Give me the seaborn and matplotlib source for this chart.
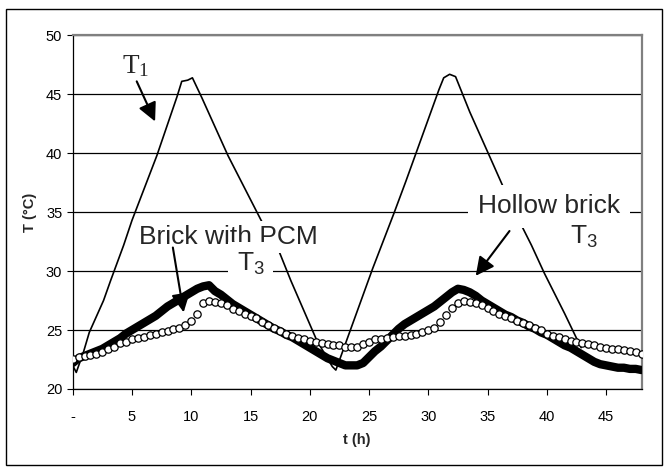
import matplotlib.pyplot as plt
import seaborn as sns
import numpy as np
from matplotlib.patches import Rectangle

sns.set_style("white")
plt.rcParams['font.family'] = ['Liberation Sans', 'DejaVu Sans']

# time axis (h), sampled every half hour
hours = np.arange(0, 48.5, 0.5)

# Hollow brick, T3 (thick line)
hollow_t3 = [22.2, 22.6, 22.8, 23.0, 23.2, 23.4, 23.7, 24.0, 24.3, 24.7,
             25.0, 25.3, 25.6, 25.9, 26.2, 26.6, 27.0, 27.3, 27.6, 27.9,
             28.2, 28.5, 28.7, 28.8, 28.3, 28.0, 27.6, 27.2, 26.9, 26.6,
             26.3, 26.0, 25.7, 25.4, 25.1, 24.9, 24.6, 24.4, 24.1, 23.8,
             23.5, 23.2, 22.9, 22.6, 22.4, 22.2, 22.0, 22.0, 22.0, 22.2,
             22.7, 23.2, 23.6, 24.1, 24.6, 25.1, 25.5, 25.8, 26.1, 26.4,
             26.7, 27.0, 27.4, 27.8, 28.2, 28.5, 28.4, 28.2, 27.9, 27.5,
             27.2, 26.9, 26.6, 26.3, 26.1, 25.8, 25.6, 25.3, 25.1, 24.8,
             24.6, 24.3, 24.0, 23.7, 23.5, 23.2, 22.9, 22.6, 22.3, 22.1,
             22.0, 21.9, 21.8, 21.8, 21.7, 21.7, 21.6]

# Brick with PCM, T3 (open circles)
pcm_t3 = [22.5, 22.7, 22.8, 22.9, 23.0, 23.1, 23.4, 23.6, 23.9, 24.0,
          24.2, 24.3, 24.4, 24.6, 24.7, 24.8, 24.9, 25.1, 25.2, 25.4,
          25.8, 26.4, 27.3, 27.5, 27.4, 27.3, 27.1, 26.8, 26.6, 26.4,
          26.2, 26.0, 25.7, 25.4, 25.2, 24.9, 24.7, 24.5, 24.3, 24.2,
          24.1, 24.0, 23.9, 23.8, 23.7, 23.7, 23.6, 23.6, 23.6, 23.8,
          24.0, 24.2, 24.2, 24.3, 24.4, 24.5, 24.5, 24.6, 24.7, 24.8,
          25.0, 25.2, 25.7, 26.3, 26.9, 27.3, 27.5, 27.4, 27.3, 27.1,
          26.9, 26.6, 26.4, 26.2, 26.0, 25.8, 25.6, 25.4, 25.2, 25.0,
          24.7, 24.5, 24.4, 24.2, 24.1, 24.0, 23.9, 23.8, 23.7, 23.6,
          23.5, 23.4, 23.4, 23.3, 23.2, 23.1, 23.0]

# T1 (outer surface)
t1_hours = [0.0, 0.3, 0.9, 1.4, 2.6, 3.2, 4.3, 5.0, 7.1, 8.8, 9.2, 9.7,
            10.1, 10.9, 13.1, 15.9, 17.4, 18.4, 20.6, 21.9, 22.2, 22.6,
            25.3, 27.1, 28.1, 29.5, 30.9, 31.3, 31.8, 32.3, 33.5, 35.5,
            37.0, 38.7, 39.8, 41.5, 42.6, 42.9]
t1_temp = [22.0, 21.4, 23.1, 24.8, 27.5, 29.2, 32.2, 34.3, 39.8, 44.8, 46.1,
           46.2, 46.4, 44.7, 39.8, 34.3, 31.7, 29.2, 24.1, 21.9, 21.6, 22.7,
           30.2, 34.9, 37.6, 41.5, 45.4, 46.4, 46.7, 46.5, 43.5, 39.0,
           35.6, 32.2, 29.8, 26.4, 24.1, 23.5]

xticks = [0, 5, 10, 15, 20, 25, 30, 35, 40, 45]
xtick_labels = ['-', '5', '10', '15', '20', '25', '30', '35', '40', '45']
yticks = [20, 25, 30, 35, 40, 45, 50]

fig = plt.figure(figsize=(6.67, 4.72), dpi=100)
ax = fig.add_axes([0.109, 0.176, 0.853, 0.749])

sns.lineplot(x=t1_hours, y=t1_temp, color='black', lw=1.2,
             estimator=None, sort=False, ax=ax, zorder=2)
sns.lineplot(x=hours, y=hollow_t3, color='black', lw=6,
             estimator=None, sort=False, ax=ax, zorder=3)
sns.scatterplot(x=hours, y=pcm_t3, marker='o', s=28, facecolor='white',
                edgecolor='black', linewidth=0.9, ax=ax, zorder=4)

ax.set_xlim(0, 48)
ax.set_ylim(20, 50)
ax.set_xticks(xticks)
ax.set_xticklabels(xtick_labels)
ax.set_yticks(yticks)
ax.set_axisbelow(True)
ax.yaxis.grid(True, color='black', lw=0.9)
ax.xaxis.grid(False)

for side in ['left', 'bottom']:
    ax.spines[side].set_color('black')
    ax.spines[side].set_linewidth(0.9)
for side in ['top', 'right']:
    ax.spines[side].set_color('#808080')
    ax.spines[side].set_linewidth(1.6)

ax.tick_params(axis='x', bottom=True, direction='out', length=4.5, width=0.8,
               pad=11, labelsize=10.5, colors='black')
ax.tick_params(axis='y', left=True, direction='out', length=4.5, width=0.8,
               pad=3, labelsize=10.5, colors='black')

ax.set_xlabel('t (h)', fontsize=10.5, fontweight='bold')
ax.set_ylabel('T (°C)', fontsize=10.5, fontweight='bold')
ax.xaxis.set_label_coords(0.5, -0.125)
ax.yaxis.set_label_coords(-0.062, 0.5)

box = dict(facecolor='white', edgecolor='none', pad=3)
arrow = dict(arrowstyle='-|>', color='black', lw=1.5,
             mutation_scale=28, shrinkA=0, shrinkB=0)

ax.text(5.3, 47.4, r'$\mathregular{T_1}$', family='Liberation Serif',
        fontsize=19.5, ha='center', va='center', zorder=6)
ax.annotate('', xy=(6.95, 42.7), xytext=(5.4, 46.1),
            arrowprops=arrow, zorder=6)

ax.text(13.1, 32.3, 'Brick with PCM', fontsize=19, ha='center',
        va='baseline', bbox=box, zorder=6)
ax.text(15.0, 30.05, r'$\mathregular{T_3}$', fontsize=19, ha='center',
        va='baseline', bbox=dict(facecolor='white', edgecolor='none', pad=6),
        zorder=6)
ax.annotate('', xy=(9.36, 26.5), xytext=(8.45, 32.0),
            arrowprops=arrow, zorder=6)

ax.text(40.2, 34.9, 'Hollow brick', fontsize=19, ha='center',
        va='baseline', bbox=dict(facecolor='white', edgecolor='none', pad=7),
        zorder=6)
ax.text(43.1, 32.3, r'$\mathregular{T_3}$', fontsize=19, ha='center',
        va='baseline', bbox=box, zorder=6)
ax.annotate('', xy=(34.0, 29.6), xytext=(36.85, 33.4),
            arrowprops=arrow, zorder=6)

fig.patches.append(Rectangle((0.0097, 0.014), 0.983, 0.967, fill=False,
                             edgecolor='black', lw=1, transform=fig.transFigure,
                             figure=fig))

fig.savefig('out.png', dpi=100)
